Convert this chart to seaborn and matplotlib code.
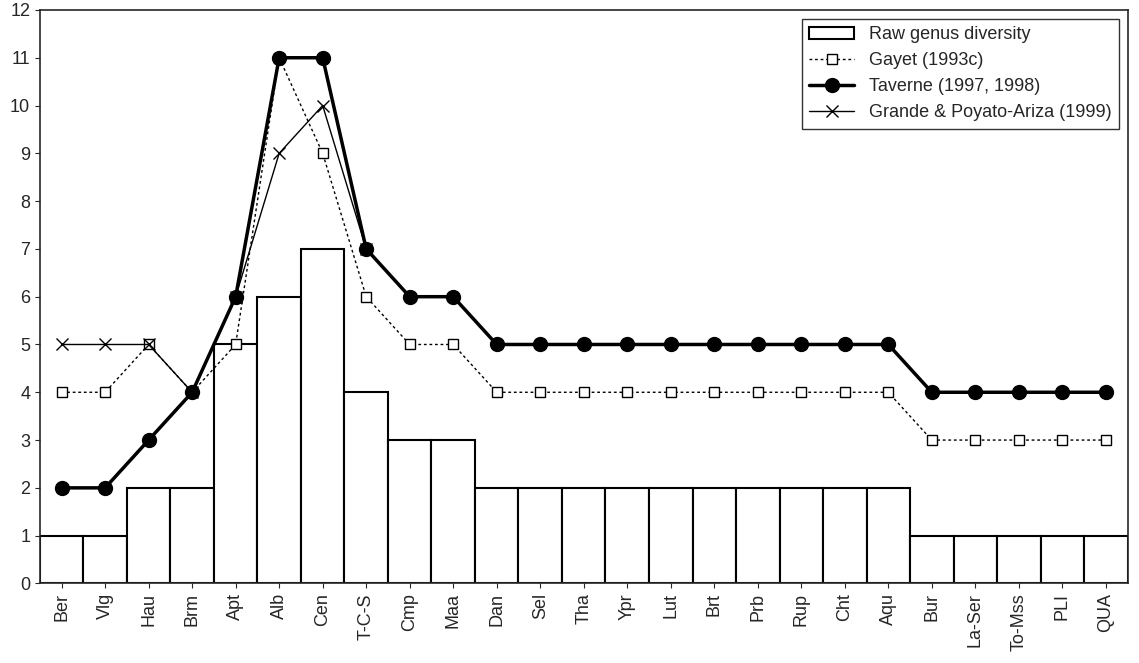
import numpy as np
import pandas as pd
import seaborn as sns
import matplotlib.pyplot as plt

cats = ["Ber", "Vlg", "Hau", "Brm", "Apt", "Alb", "Cen", "T-C-S", "Cmp", "Maa", "Dan", "Sel", "Tha",
        "Ypr", "Lut", "Brt", "Prb", "Rup", "Cht", "Aqu", "Bur", "La-Ser", "To-Mss", "PLI", "QUA"]
raw = [1, 1, 2, 2, 5, 6, 7, 4, 3, 3, 2, 2, 2, 2, 2, 2, 2, 2, 2, 2, 1, 1, 1, 1, 1]
gayet = [4, 4, 5, 4, 5, 11, 9, 6, 5, 5, 4, 4, 4, 4, 4, 4, 4, 4, 4, 4, 3, 3, 3, 3, 3]
taverne = [2, 2, 3, 4, 6, 11, 11, 7, 6, 6, 5, 5, 5, 5, 5, 5, 5, 5, 5, 5, 4, 4, 4, 4, 4]
grande = [5, 5, 5, 4, 6, 9, 10, 7] + [np.nan] * 17

sns.set_style("ticks")
plt.rcParams["font.family"] = ["Liberation Sans", "DejaVu Sans"]
fig, ax = plt.subplots(figsize=(11.39, 6.63), dpi=100)

df = pd.DataFrame({"cat": cats, "raw": raw})
sns.barplot(data=df, x="cat", y="raw", ax=ax, color="white", edgecolor="black",
            linewidth=1.5, width=1.0, label="Raw genus diversity")
x = np.arange(len(cats))
ax.plot(x, gayet, ls=(0, (2, 2)), color="black", lw=1, marker="s", ms=7,
        mfc="white", mec="black", label="Gayet (1993c)")
ax.plot(x, taverne, color="black", lw=2.5, marker="o", ms=10, label="Taverne (1997, 1998)")
ax.plot(x, grande, color="black", lw=1, marker="x", ms=8, label="Grande & Poyato-Ariza (1999)")

ax.set_xlim(-0.5, len(cats) - 0.5)
ax.set_ylim(0, 12)
ax.set_yticks(range(13))
ax.set_xlabel("")
ax.set_ylabel("")
ax.tick_params(axis="x", rotation=90, labelsize=13)
ax.tick_params(axis="y", labelsize=13)
for s in ax.spines.values():
    s.set_visible(True)
    s.set_linewidth(1.2)
handles, labels = ax.get_legend_handles_labels()
order = [labels.index("Raw genus diversity")] + [i for i, l in enumerate(labels) if l != "Raw genus diversity"]
ax.legend([handles[i] for i in order], [labels[i] for i in order], loc="upper right",
          fontsize=13, frameon=True, fancybox=False, edgecolor="black", handlelength=2.5)
fig.subplots_adjust(left=0.035, right=0.99, top=0.985, bottom=0.12)
fig.savefig("out.png", dpi=100)
